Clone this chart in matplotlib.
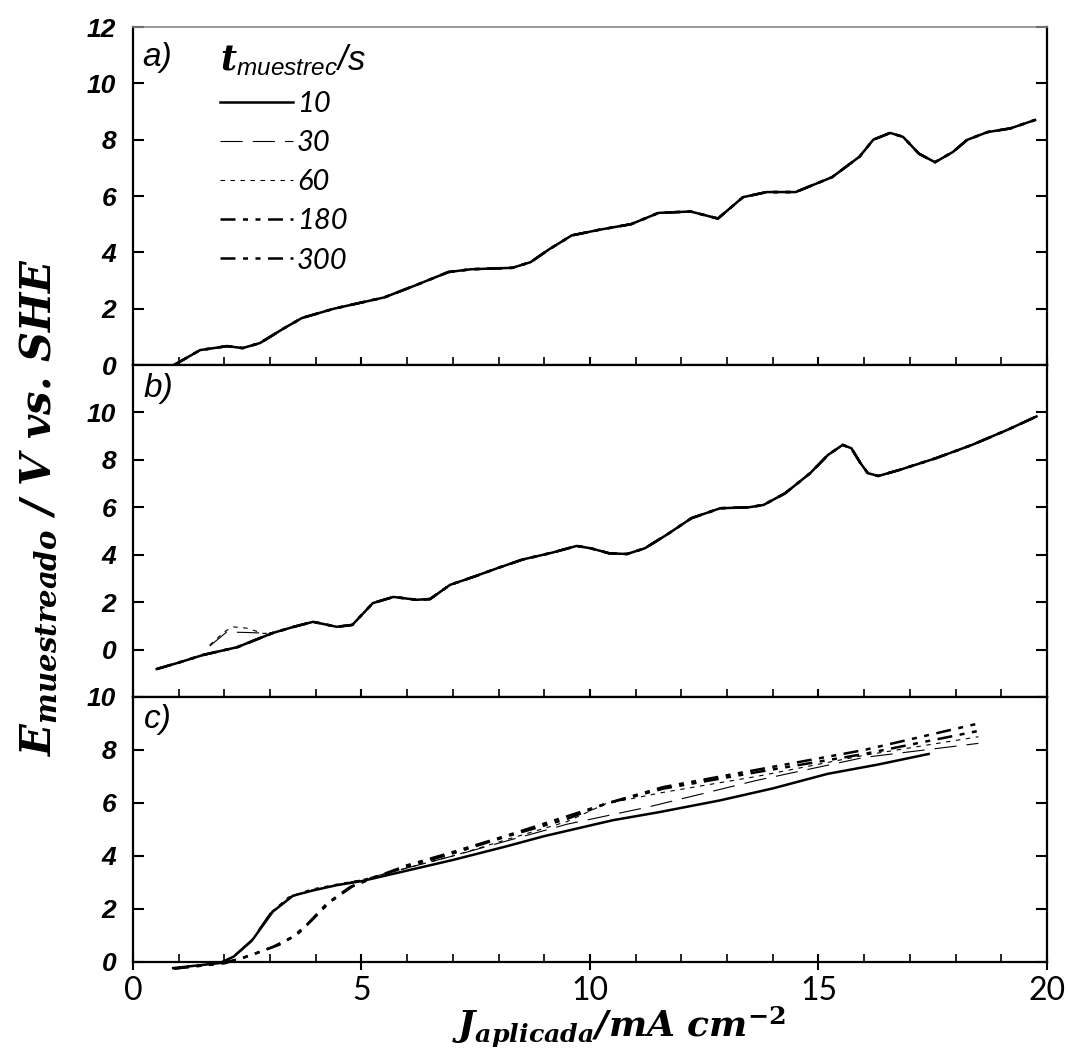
import matplotlib.pyplot as plt
from matplotlib.ticker import MultipleLocator

plt.rcParams["mathtext.fontset"] = "custom"
plt.rcParams["mathtext.it"] = "DejaVu Serif:italic:bold"
plt.rcParams["mathtext.rm"] = "DejaVu Serif:bold"
plt.rcParams["mathtext.bf"] = "DejaVu Serif:italic:bold"
plt.rcParams["mathtext.sf"] = "Liberation Sans:italic"

# sampling times (legend)
times = ["10", "30", "60", "180", "300"]

# a) all sampling times fall on the same curve
a_x = [0.9, 1.47, 2.06, 2.4, 2.78, 3.3, 3.7, 4.4, 5.5, 6.2, 6.9, 7.4, 8.3, 8.7,
       9.1, 9.6, 10.2, 10.9, 11.5, 12.2, 12.8, 13.35, 13.87, 14.5, 15.3, 15.9,
       16.2, 16.57, 16.85, 17.2, 17.55, 17.94, 18.25, 18.7, 19.2, 19.74]
a_y = [0.0, 0.53, 0.67, 0.6, 0.78, 1.3, 1.67, 2.0, 2.4, 2.84, 3.3, 3.4, 3.45, 3.65,
       4.1, 4.6, 4.8, 5.0, 5.4, 5.45, 5.2, 5.96, 6.14, 6.14, 6.67, 7.4,
       8.0, 8.24, 8.1, 7.5, 7.2, 7.56, 7.99, 8.27, 8.4, 8.7]

# b) common curve
b_x = [0.52, 1.0, 1.53, 2.28, 3.06, 3.5, 3.94, 4.46, 4.8, 5.25, 5.7, 6.2, 6.5,
       6.94, 7.5, 8.0, 8.53, 9.16, 9.71, 10.02, 10.42, 10.81, 11.2, 11.67, 12.22,
       12.85, 13.48, 13.8, 14.27, 14.82, 15.21, 15.53, 15.72, 15.92, 16.08,
       16.31, 16.78, 17.57, 18.36, 19.14, 19.77]
b_y = [-0.82, -0.55, -0.23, 0.1, 0.7, 0.95, 1.17, 0.96, 1.04, 1.96, 2.22, 2.1, 2.13,
       2.73, 3.1, 3.45, 3.8, 4.08, 4.37, 4.27, 4.06, 4.03, 4.27, 4.83, 5.54,
       5.96, 6.0, 6.1, 6.59, 7.44, 8.21, 8.63, 8.49, 7.86, 7.44,
       7.32, 7.58, 8.07, 8.63, 9.27, 9.83]
# b) short deviations near 2 mA cm-2
b30_x = [1.68, 2.05, 2.5, 2.78, 3.06]
b30_y = [0.15, 0.74, 0.72, 0.7, 0.7]
b60_x = [1.68, 2.0, 2.19, 2.5, 2.85, 3.06]
b60_y = [0.19, 0.75, 0.96, 0.9, 0.68, 0.7]

# c) each sampling time separately
c10_x = [0.88, 1.9, 2.2, 2.6, 3.06, 3.5, 3.94, 4.46, 5.0, 6.0, 7.0, 8.14, 9.0,
         10.5, 11.5, 12.85, 14.0, 15.2, 16.3, 17.41]
c10_y = [-0.23, -0.04, 0.2, 0.8, 1.9, 2.5, 2.7, 2.9, 3.05, 3.45, 3.85, 4.35, 4.75,
         5.35, 5.65, 6.1, 6.55, 7.1, 7.45, 7.85]
c30_x = [0.9, 1.9, 2.2, 2.6, 3.0, 3.45, 3.9, 4.5, 5.0, 6.0, 7.0, 8.14, 9.5,
         11.28, 13.64, 16.0, 18.5]
c30_y = [-0.22, -0.03, 0.22, 0.85, 1.85, 2.45, 2.7, 2.92, 3.1, 3.55, 4.0, 4.55, 5.2,
         5.85, 6.85, 7.72, 8.25]
c60_x = [2.0, 2.3, 2.65, 3.0, 3.4, 3.9, 4.5, 5.0, 6.0, 7.0, 8.14, 9.5, 10.34,
         11.6, 13.64, 16.0, 18.5]
c60_y = [0.0, 0.3, 0.9, 1.85, 2.45, 2.75, 2.95, 3.1, 3.55, 4.0, 4.6, 5.3, 5.97,
         6.4, 7.0, 7.8, 8.5]
c180_x = [0.9, 1.9, 2.3, 2.7, 3.06, 3.5, 3.8, 4.24, 4.75, 5.2, 6.0, 7.0, 8.14,
          9.5, 10.34, 11.6, 13.64, 16.0, 18.5]
c180_y = [-0.25, -0.05, 0.1, 0.33, 0.57, 0.95, 1.4, 2.2, 2.83, 3.15, 3.6, 4.1, 4.72,
          5.4, 5.97, 6.54, 7.16, 7.85, 8.72]
c300_x = [0.9, 2.0, 2.4, 2.8, 3.2, 3.6, 3.9, 4.3, 4.8, 5.3, 6.0, 7.0, 8.14,
          9.5, 10.5, 11.6, 13.64, 16.0, 18.5]
c300_y = [-0.25, -0.05, 0.15, 0.4, 0.65, 1.05, 1.55, 2.25, 2.85, 3.2, 3.65, 4.15, 4.75,
          5.5, 6.05, 6.6, 7.25, 8.0, 9.0]

styles = [
    dict(color="black", lw=1.8, ls="-"),
    dict(color="black", lw=0.8, ls=(0, (20, 9))),
    dict(color="black", lw=0.8, ls=(0, (4, 5))),
    dict(color="black", lw=1.8, ls=(0, (6, 3, 2, 3, 2, 3))),
    dict(color="black", lw=1.8, ls=(0, (6, 3, 2, 3, 2, 3))),
]

ytick_font = dict(family="Liberation Sans", weight="bold", style="italic", size=19)
xtick_font = dict(family=["Lato", "DejaVu Sans"], weight="normal", size=23)
panel_font = dict(family="Liberation Sans", style="italic", size=24)

fig = plt.figure(figsize=(10.68, 10.59), dpi=100)
gs = fig.add_gridspec(3, 1, height_ratios=[338, 332, 265], hspace=0,
                      left=0.1245, right=0.9803, top=0.9745, bottom=0.0916)
ax_a = fig.add_subplot(gs[0])
ax_b = fig.add_subplot(gs[1], sharex=ax_a)
ax_c = fig.add_subplot(gs[2], sharex=ax_a)

# panel a
for t, st in zip(times, styles):
    ax_a.plot(a_x, a_y, label=t, **st)
# panel b
for st in styles:
    ax_b.plot(b_x, b_y, **st)
ax_b.plot(b30_x, b30_y, **styles[1])
ax_b.plot(b60_x, b60_y, **styles[2])
# panel c (lines run slightly below the axis at low current)
for xs, ys, st in zip([c10_x, c30_x, c60_x, c180_x, c300_x],
                      [c10_y, c30_y, c60_y, c180_y, c300_y], styles):
    ax_c.plot(xs, ys, clip_on=False, **st)

ax_a.set_ylim(0, 12)
ax_b.set_ylim(-2, 12)
ax_c.set_ylim(0, 10)
ax_a.set_yticks([0, 2, 4, 6, 8, 10, 12])
ax_b.set_yticks([0, 2, 4, 6, 8, 10])
ax_c.set_yticks([0, 2, 4, 6, 8, 10])
ax_a.set_xlim(0, 20)

for ax in (ax_a, ax_b, ax_c):
    ax.xaxis.set_major_locator(MultipleLocator(5))
    ax.xaxis.set_minor_locator(MultipleLocator(1))
    ax.tick_params(axis="y", which="major", direction="in", length=8, width=1.5,
                   left=True, right=True, pad=12)
    ax.tick_params(axis="x", which="major", direction="inout", length=12, width=1.5,
                   top=False, pad=4)
    ax.tick_params(axis="x", which="minor", direction="in", length=6, width=1.2, top=False)
    for side in ("left", "right", "bottom", "top"):
        ax.spines[side].set_linewidth(1.6)
    for lab in ax.get_yticklabels():
        lab.set(**ytick_font)

ax_a.spines["top"].set_color("#888888")
ax_a.spines["top"].set_linewidth(1.2)
ax_a.tick_params(axis="x", labelbottom=False)
ax_b.tick_params(axis="x", labelbottom=False)
ax_c.set_xticks([0, 5, 10, 15, 20])
for lab in ax_c.get_xticklabels():
    lab.set(**xtick_font)

ax_a.text(0.01, 0.955, "a)", transform=ax_a.transAxes, va="top", ha="left", **panel_font)
ax_b.text(0.012, 0.975, "b)", transform=ax_b.transAxes, va="top", ha="left", **panel_font)
ax_c.text(0.012, 0.975, "c)", transform=ax_c.transAxes, va="top", ha="left", **panel_font)

leg = ax_a.legend(title=r"$\mathbf{t}_{\mathsf{muestrec}}$/s", loc="upper left",
                  bbox_to_anchor=(0.095, 0.955), frameon=False, borderpad=0,
                  borderaxespad=0, handlelength=2.5, handletextpad=0.15,
                  labelspacing=0.45, alignment="left",
                  prop=dict(family=["Lato", "DejaVu Sans"], style="italic", size=21),
                  title_fontproperties=dict(family="Liberation Sans", style="italic",
                                            size=25))

fig.text(0.036, 0.521, r"$E_{muestreado}$ / V vs. SHE", rotation=90, ha="center",
         va="center", family="DejaVu Serif", weight="bold", style="italic", size=30)
fig.text(0.58, 0.030, r"$J_{aplicada}$/mA cm$^{-2}$", ha="center", va="center",
         family="DejaVu Serif", weight="bold", style="italic", size=26)

fig.savefig("out.png", dpi=100, facecolor="white")
